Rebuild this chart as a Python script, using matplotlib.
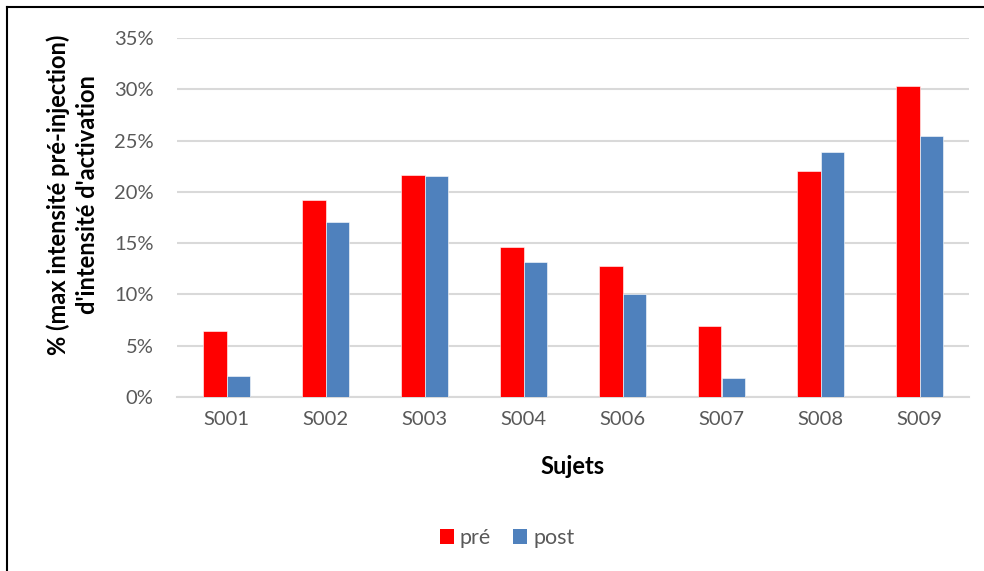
import matplotlib
matplotlib.use("Agg")
import matplotlib.pyplot as plt
from matplotlib.lines import Line2D
from matplotlib.ticker import FuncFormatter
from matplotlib.patches import Patch
import numpy as np

plt.rcParams['font.family'] = ['Lato', 'DejaVu Sans']

categories = ["S001", "S002", "S003", "S004", "S006", "S007", "S008", "S009"]
pre = [6.43, 19.16, 21.62, 14.61, 12.73, 6.92, 22.01, 30.29]
post = [2.08, 17.11, 21.53, 13.21, 10.03, 1.85, 23.86, 25.45]
series_names = ["pré", "post"]
yticks = [0, 5, 10, 15, 20, 25, 30, 35]

red = "#FF0000"
blue = "#4F81BD"

fig = plt.figure(figsize=(9.84, 5.71), dpi=100)
ax = fig.add_axes([177/984, 1 - 397/571, (969-177)/984, (397-38)/571])

x = np.arange(len(categories))
w = 0.2375
ax.bar(x - w/2, pre, width=w, color=red, edgecolor="white", linewidth=0.4, zorder=3)
ax.bar(x + w/2, post, width=w, color=blue, edgecolor="white", linewidth=0.4, zorder=3)

ax.set_xlim(-0.5, len(categories) - 0.5)
ax.set_ylim(0, 35)
ax.set_yticks(yticks)
ax.yaxis.set_major_formatter(FuncFormatter(lambda v, p: f"{int(v)}%"))
ax.set_xticks(x)
ax.set_xticklabels(categories)
ax.grid(axis="y", color="#D9D9D9", linewidth=1.5, zorder=0)
ax.set_axisbelow(True)
for s in ["top", "right", "left"]:
    ax.spines[s].set_visible(False)
ax.spines["bottom"].set_color("#D9D9D9")
ax.spines["bottom"].set_linewidth(1.5)
ax.tick_params(axis="both", length=0, labelsize=14.5, labelcolor="#595959")
ax.tick_params(axis="y", pad=17)
ax.tick_params(axis="x", pad=10)

fig.text(573/984, 1 - 467/571, "Sujets", ha="center", va="center",
         fontsize=17, fontweight="bold", color="black")
fig.text(73/984, 1 - 195/571, "% (max intensité pré-injection)\nd'intensité d'activation",
         ha="center", va="center", rotation=90, fontsize=17, fontweight="bold",
         color="black", linespacing=1.3, multialignment="center")

handles = [Patch(facecolor=red, edgecolor="none"), Patch(facecolor=blue, edgecolor="none")]
fig.legend(handles, series_names, loc="center", bbox_to_anchor=(507/984, 1 - 538/571),
           ncol=2, frameon=False, fontsize=15.5, handlelength=0.65, handleheight=0.65,
           handletextpad=0.3, columnspacing=1.0, labelcolor="#595959")

fig.add_artist(Line2D([7/984, 7/984], [0, 1 - 7/571], transform=fig.transFigure,
                      color="black", linewidth=1.5))
fig.add_artist(Line2D([7/984, 1], [1 - 7/571, 1 - 7/571], transform=fig.transFigure,
                      color="black", linewidth=1.5))

fig.savefig("out.png", dpi=100, facecolor="white")
